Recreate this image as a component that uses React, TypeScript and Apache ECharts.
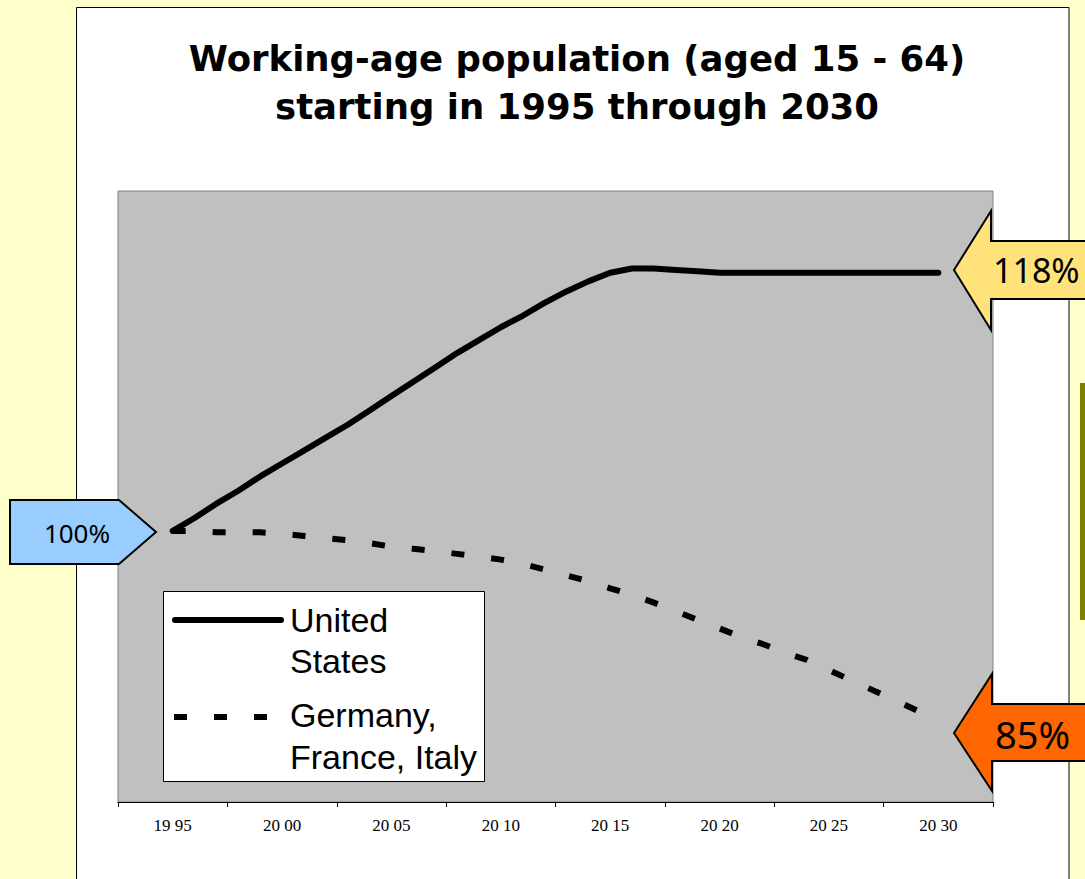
import React, { useEffect, useRef } from "react";
import * as echarts from "echarts";

// ---- data ----
const categories = ["19 95", "20 00", "20 05", "20 10", "20 15", "20 20", "20 25", "20 30"];
const years = [
  1995, 1996, 1997, 1998, 1999, 2000, 2001, 2002, 2003, 2004, 2005, 2006,
  2007, 2008, 2009, 2010, 2011, 2012, 2013, 2014, 2015, 2016, 2017, 2018,
  2019, 2020, 2021, 2022, 2023, 2024, 2025, 2026, 2027, 2028, 2029, 2030,
];
const usValues = [
  100.0, 100.9, 101.9, 102.8, 103.8, 104.7, 105.6, 106.5, 107.4, 108.4, 109.4, 110.4,
  111.4, 112.4, 113.3, 114.2, 115.0, 115.9, 116.7, 117.4, 118.0, 118.3, 118.3, 118.2,
  118.1, 118.0, 118.0, 118.0, 118.0, 118.0, 118.0, 118.0, 118.0, 118.0, 118.0, 118.0,
];
const europeValues = [
  100.0, 100.0, 99.9, 99.9, 99.9, 99.8, 99.65, 99.5, 99.35, 99.15, 98.9, 98.75,
  98.6, 98.4, 98.2, 98.0, 97.7, 97.3, 96.9, 96.5, 96.0, 95.55, 95.0, 94.4,
  93.8, 93.2, 92.6, 92.1, 91.5, 91.0, 90.3, 89.6, 88.9, 88.2, 87.5, 86.7,
];
const seriesNames = ["United States", "Germany, France, Italy"];
const legendLines = [["United", "States"], ["Germany,", "France, Italy"]];
const titleLines = ["Working-age population (aged 15 - 64)", "starting in 1995 through 2030"];
const calloutLabels = ["100%", "118%", "85%"];

export default function App() {
  const ref = useRef<HTMLDivElement>(null);

  useEffect(() => {
    if (!ref.current) return;
    const chart = echarts.init(ref.current, undefined, { renderer: "svg" });

    const usData = years.map((y, i) => [y, usValues[i]]);
    const euData = years.map((y, i) => [y, europeValues[i]]);

    const titleFont = "bold 35.5px 'DejaVu Sans', sans-serif";
    const legendFont = "34px 'Liberation Sans', Arial, sans-serif";

    const option: any = {
      animation: false,
      backgroundColor: "#FFFFCC",
      grid: {
        left: 118,
        top: 191,
        width: 875,
        height: 611,
        show: true,
        backgroundColor: "#C0C0C0",
        borderColor: "#808080",
        borderWidth: 1,
        z: 2,
      },
      xAxis: [
        {
          type: "category",
          data: categories,
          boundaryGap: true,
          position: "bottom",
          axisLine: { show: true, lineStyle: { color: "#000", width: 1 } },
          axisTick: { show: true, length: 5, lineStyle: { color: "#000", width: 1 } },
          axisLabel: {
            color: "#000",
            fontFamily: "'Liberation Serif', 'Times New Roman', serif",
            fontSize: 17,
            margin: 15,
          },
          splitLine: { show: false },
          z: 3,
        },
        { type: "value", min: 1992.5, max: 2032.5, show: false },
      ],
      yAxis: { type: "value", min: 81.1, max: 123.7, show: false },
      series: [
        {
          name: seriesNames[0],
          type: "line",
          xAxisIndex: 1,
          data: usData,
          showSymbol: false,
          symbol: "none",
          lineStyle: { color: "#000", width: 6, cap: "round", join: "round" },
          z: 5,
        },
        {
          name: seriesNames[1],
          type: "line",
          xAxisIndex: 1,
          data: euData,
          showSymbol: false,
          symbol: "none",
          lineStyle: { color: "#000", width: 6, type: [13, 27], cap: "butt", join: "miter" },
          z: 5,
        },
      ],
      graphic: [
        // white slide panel
        {
          type: "rect",
          z: -100,
          shape: { x: 76.5, y: 7.5, width: 992.5, height: 900 },
          style: { fill: "#FFFFFF", stroke: "#000", lineWidth: 1 },
        },
        // olive bar at right edge
        {
          type: "rect",
          z: -90,
          shape: { x: 1080, y: 383, width: 6, height: 237 },
          style: { fill: "#808000" },
        },
        // title
        {
          type: "text",
          z: 100,
          style: { x: 577, y: 58, text: titleLines[0], font: titleFont, fill: "#000", textAlign: "center", textVerticalAlign: "middle" },
        },
        {
          type: "text",
          z: 100,
          style: { x: 577, y: 106, text: titleLines[1], font: titleFont, fill: "#000", textAlign: "center", textVerticalAlign: "middle" },
        },
        // legend box
        {
          type: "rect",
          z: 50,
          shape: { x: 163.5, y: 591.5, width: 321, height: 190 },
          style: { fill: "#FFFFFF", stroke: "#000", lineWidth: 1 },
        },
        {
          type: "line",
          z: 51,
          shape: { x1: 175, y1: 620, x2: 281, y2: 620 },
          style: { stroke: "#000", lineWidth: 6, lineCap: "round" },
        },
        {
          type: "line",
          z: 51,
          shape: { x1: 174, y1: 717, x2: 267, y2: 717 },
          style: { stroke: "#000", lineWidth: 6, lineDash: [13, 27] },
        },
        { type: "text", z: 51, style: { x: 290, y: 620, text: legendLines[0][0], font: legendFont, fill: "#000", textAlign: "left", textVerticalAlign: "middle" } },
        { type: "text", z: 51, style: { x: 290, y: 661, text: legendLines[0][1], font: legendFont, fill: "#000", textAlign: "left", textVerticalAlign: "middle" } },
        { type: "text", z: 51, style: { x: 290, y: 715, text: legendLines[1][0], font: legendFont, fill: "#000", textAlign: "left", textVerticalAlign: "middle" } },
        { type: "text", z: 51, style: { x: 290, y: 757, text: legendLines[1][1], font: legendFont, fill: "#000", textAlign: "left", textVerticalAlign: "middle" } },
        // 100% callout
        {
          type: "polygon",
          z: 60,
          shape: { points: [[10, 500], [119, 500], [156, 532], [119, 564], [10, 564]] },
          style: { fill: "#99CCFF", stroke: "#000", lineWidth: 2 },
        },
        { type: "text", z: 61, style: { x: 77, y: 533, text: calloutLabels[0], font: "26px 'Noto Sans', sans-serif", fill: "#000", textAlign: "center", textVerticalAlign: "middle" } },
        // 118% callout
        {
          type: "polygon",
          z: 60,
          shape: { points: [[954, 270], [991, 211], [991, 241], [1095, 241], [1095, 299], [991, 299], [991, 330]] },
          style: { fill: "#FFE27A", stroke: "#000", lineWidth: 2 },
        },
        { type: "text", z: 61, style: { x: 993, y: 270, text: calloutLabels[1], font: "34px 'Noto Sans', sans-serif", fill: "#000", textAlign: "left", textVerticalAlign: "middle" } },
        // 85% callout
        {
          type: "polygon",
          z: 60,
          shape: { points: [[954, 733], [992, 674], [992, 704], [1095, 704], [1095, 761], [992, 761], [992, 791]] },
          style: { fill: "#FF6600", stroke: "#000", lineWidth: 2 },
        },
        { type: "text", z: 61, style: { x: 995, y: 734, text: calloutLabels[2], font: "38px 'Noto Sans', sans-serif", fill: "#000", textAlign: "left", textVerticalAlign: "middle" } },
      ],
    };

    chart.setOption(option);
    return () => chart.dispose();
  }, []);

  return (
    <div
      ref={ref}
      style={{ position: "fixed", left: 0, top: 0, width: 1085, height: 879 }}
    />
  );
}
